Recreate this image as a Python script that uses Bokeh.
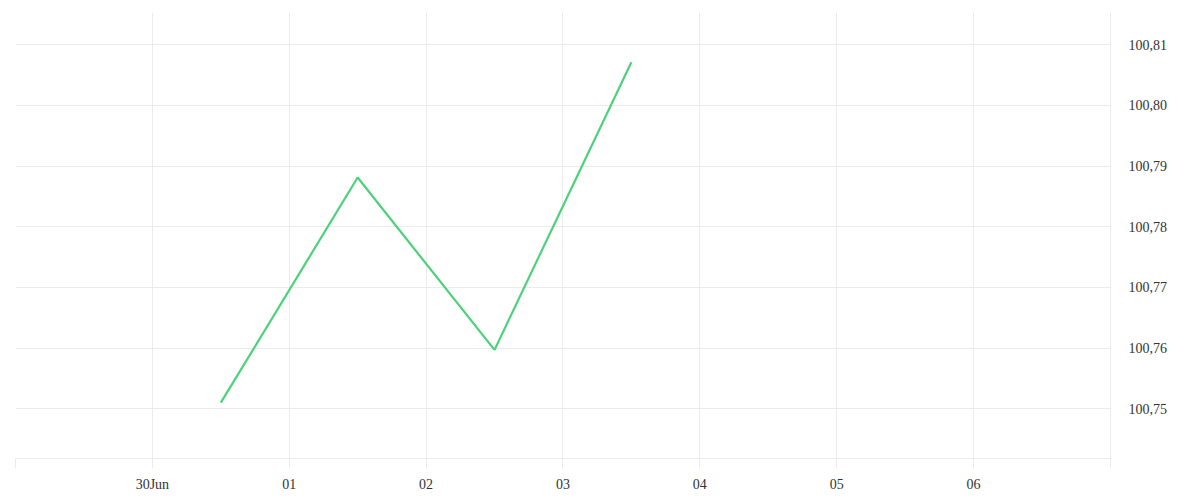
from datetime import datetime
from bokeh.plotting import figure
from bokeh.models import (LinearAxis, FixedTicker, CustomJSTickFormatter, Range1d, ColumnDataSource)
from bokeh.embed import file_html
from bokeh.resources import INLINE

# data
dates = [datetime(2024, 6, 30, 12), datetime(2024, 7, 1, 12), datetime(2024, 7, 2, 12), datetime(2024, 7, 3, 12)]
values = [100.751, 100.7881, 100.7597, 100.8071]
x_tick_days = [datetime(2024, 6, 29), datetime(2024, 6, 30), datetime(2024, 7, 1), datetime(2024, 7, 2),
               datetime(2024, 7, 3), datetime(2024, 7, 4), datetime(2024, 7, 5), datetime(2024, 7, 6),
               datetime(2024, 7, 7)]
y_ticks = [100.75, 100.76, 100.77, 100.78, 100.79, 100.80, 100.81]

def ms(d):
    return (d - datetime(1970, 1, 1)).total_seconds() * 1000.0

src = ColumnDataSource(dict(x=dates, y=values))

p = figure(x_axis_type="datetime", output_backend="svg", toolbar_location=None,
           frame_width=1096, frame_height=446,
           x_range=Range1d(ms(x_tick_days[0]), ms(x_tick_days[-1]) + 700000),
           y_range=Range1d(100.7418, 100.8153),
           y_axis_location=None,
           min_border_left=15, min_border_top=12, min_border_right=81, min_border_bottom=34)
p.outline_line_color = None
p.background_fill_color = "white"
p.border_fill_color = "white"

p.line("x", "y", source=src, line_color="#4cd27a", line_width=2.2)

font = "Liberation Serif"

xa = p.xaxis[0]
xa.ticker = FixedTicker(ticks=[ms(d) for d in x_tick_days])
xa.formatter = CustomJSTickFormatter(code="""
const months = ['Jan','Feb','Mar','Apr','May','Jun','Jul','Aug','Sep','Oct','Nov','Dec'];
if (index == 0 || index == ticks.length - 1) { return ""; }
const d = new Date(tick);
const dd = String(d.getUTCDate()).padStart(2, '0');
if (index == 1) { return dd + months[d.getUTCMonth()]; }
return dd;
""")
xa.axis_line_color = "#ebebeb"
xa.major_tick_line_color = "#ebebeb"
xa.major_tick_in = 0
xa.major_tick_out = 10
xa.minor_tick_line_color = None
xa.major_label_standoff = 8
xa.major_label_text_font = font
xa.major_label_text_font_size = "14px"
xa.major_label_text_color = "#333333"

ya = LinearAxis(ticker=FixedTicker(ticks=y_ticks))
ya.formatter = CustomJSTickFormatter(code="return tick.toFixed(2).replace('.', ',');")
ya.axis_line_color = None
ya.major_tick_line_color = None
ya.minor_tick_line_color = None
ya.major_tick_in = 0
ya.major_tick_out = 0
ya.major_label_standoff = 17
ya.major_label_text_font = font
ya.major_label_text_font_size = "14px"
ya.major_label_text_color = "#333333"
p.add_layout(ya, "right")

p.xgrid.grid_line_color = "#ebebeb"
p.ygrid.grid_line_color = "#ebebeb"
p.ygrid.ticker = FixedTicker(ticks=y_ticks)

open("out.html", "w").write(file_html(p, INLINE))
